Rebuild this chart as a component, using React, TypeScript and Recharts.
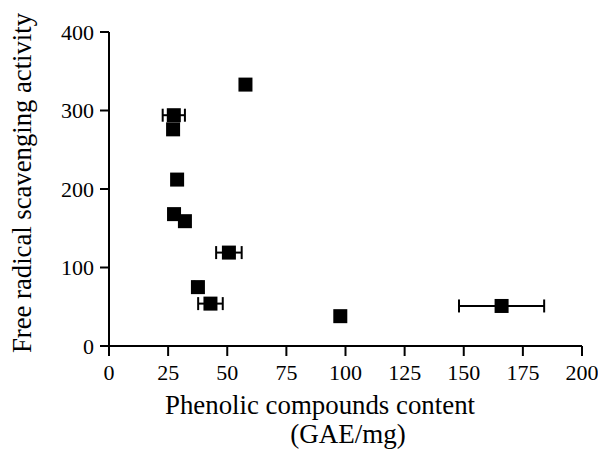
import React from 'react';
import { ErrorBar, Label, Scatter, ScatterChart, XAxis, YAxis } from 'recharts';

const phenolicX = [57.7, 27.4, 27.1, 28.8, 27.5, 32.1, 50.7, 37.6, 42.9, 97.8, 166];
const scavengingY = [333, 294, 276, 212, 168, 159, 119, 75, 54, 38, 51];
const phenolicErr = [0, 4.7, 0, 0, 0, 0, 5.4, 1.5, 5.2, 0, 18];

const xTicks = [0, 25, 50, 75, 100, 125, 150, 175, 200];
const yTicks = [0, 100, 200, 300, 400];

const points = phenolicX.map((x, i) => ({ x, y: scavengingY[i], xErr: phenolicErr[i] }));
const withErr = points.filter((p) => p.xErr > 0);
const noErr = points.filter((p) => p.xErr === 0);

const FONT = '"Liberation Serif", "DejaVu Serif", serif';
const tick = { fontSize: 22, fill: '#000', fontFamily: FONT };

function Square(props: { cx?: number; cy?: number }) {
  const { cx = 0, cy = 0 } = props;
  return <rect x={cx - 7} y={cy - 7} width={14} height={14} fill="#000" />;
}

// axis titles sit at fixed spots, as in the source figure
function XTitle() {
  return (
    <g fontFamily={FONT} fontSize={27} fill="#000">
      <text x={320} y={414} textAnchor="middle" textLength={310} lengthAdjust="spacingAndGlyphs">
        Phenolic compounds content
      </text>
      <text x={348} y={443} textAnchor="middle">(GAE/mg)</text>
    </g>
  );
}

function YTitle() {
  return (
    <text
      transform="translate(31, 183) rotate(-90)"
      textAnchor="middle"
      fontFamily={FONT}
      fontSize={27}
      fill="#000"
      textLength={340}
      lengthAdjust="spacingAndGlyphs"
    >
      Free radical scavenging activity
    </text>
  );
}

export default function App() {
  return (
    <div style={{ position: 'absolute', left: 0, top: 0, background: '#fff' }}>
      <ScatterChart width={598} height={451} margin={{ top: 32, right: 16, bottom: 65, left: 39 }}>
        <XAxis
          type="number"
          dataKey="x"
          domain={[0, 200]}
          ticks={xTicks}
          interval={0}
          tick={tick}
          tickSize={10}
          tickMargin={8}
          height={40}
          axisLine={{ stroke: '#000', strokeWidth: 2 }}
          tickLine={{ stroke: '#000', strokeWidth: 2 }}
        >
          <Label content={<XTitle />} />
        </XAxis>
        <YAxis
          type="number"
          dataKey="y"
          domain={[0, 400]}
          ticks={yTicks}
          interval={0}
          tick={tick}
          tickSize={9}
          tickMargin={6}
          width={70}
          axisLine={{ stroke: '#000', strokeWidth: 2 }}
          tickLine={{ stroke: '#000', strokeWidth: 2 }}
        >
          <Label content={<YTitle />} />
        </YAxis>
        <Scatter data={noErr} shape={<Square />} isAnimationActive={false} />
        <Scatter data={withErr} shape={<Square />} isAnimationActive={false}>
          <ErrorBar dataKey="xErr" direction="x" width={6.5} stroke="#000" strokeWidth={2} />
        </Scatter>
      </ScatterChart>
    </div>
  );
}
